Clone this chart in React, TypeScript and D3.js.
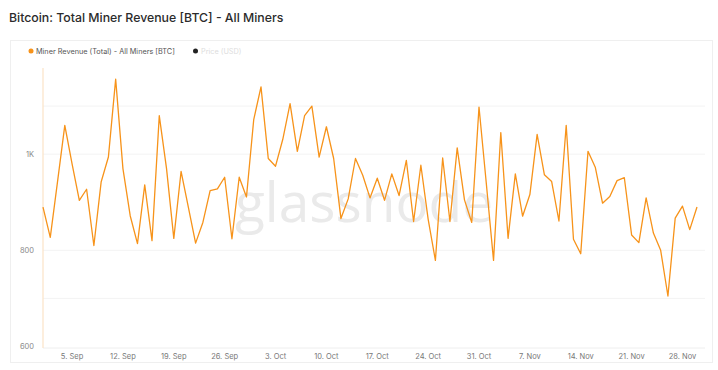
import React from "react";
import * as d3 from "d3";

const startDate = "2022-09-01";
const revenue: number[] = [
  890, 827, 943, 1060, 980, 904, 927, 810, 942, 994,
  1156, 970, 872, 814, 936, 820, 1080, 970, 825, 964,
  890, 815, 858, 924, 928, 952, 824, 952, 911, 1072,
  1140, 991, 975, 1031, 1105, 1006, 1080, 1100, 994, 1057,
  991, 866, 907, 991, 956, 909, 950, 904, 959, 914,
  987, 860, 977, 865, 779, 992, 860, 1013, 905, 858,
  1098, 940, 779, 1045, 825, 959, 871, 916, 1041, 957,
  943, 861, 1060, 823, 793, 1006, 973, 898, 912, 945,
  951, 832, 816, 909, 836, 800, 705, 867, 892, 843,
  890,
];
const yLabelTicks: number[] = [600, 800, 1000];
const yGridTicks: number[] = [700, 800, 1000, 1100];
const yDomain: number[] = [600, 1200];
const title = "Bitcoin: Total Miner Revenue [BTC] - All Miners";
const legendMain = "Miner Revenue (Total) - All Miners [BTC]";
const legendPrice = "Price (USD)";

const W = 718;
const H = 370;
const ORANGE = "#f7931a";

export default function App() {
  const parse = d3.timeParse("%Y-%m-%d");
  const start = parse(startDate) as Date;
  const data = revenue.map((v, i) => ({ date: d3.timeDay.offset(start, i), value: v }));
  const end = data[data.length - 1].date;

  const plotLeft = 43;
  const plotRight = 697;
  const plotTop = 58;
  const plotBottom = 346.5;

  const x = d3.scaleTime().domain([start, end]).range([plotLeft, plotRight]);
  const y = d3.scaleLinear().domain(yDomain).range([plotBottom, plotTop]);

  const line = d3
    .line<{ date: Date; value: number }>()
    .x((d) => x(d.date))
    .y((d) => y(d.value));

  const xTicks = x.ticks(d3.timeMonday.every(1) as d3.TimeInterval);
  const fmtX = d3.timeFormat("%-d. %b");
  const fmtY = (v: number) => (v >= 1000 ? `${v / 1000}K` : `${v}`);

  const font = "Inter, 'Open Sans', sans-serif";

  return (
    <svg
      width={W}
      height={H}
      style={{ position: "absolute", left: 0, top: 0, background: "#fff" }}
      fontFamily={font}
    >
      <rect x={0} y={0} width={W} height={H} fill="#fff" />
      <text x={9} y={22} fontSize={12.3} fontWeight={500} fill="#2b2b2b">
        {title}
      </text>
      <rect x={10.5} y={40.5} width={702} height={322} fill="#fff" stroke="#efefef" />

      {/* legend */}
      <circle cx={31} cy={51} r={2.5} fill={ORANGE} />
      <text x={36} y={53.5} fontSize={7.3} fill="#555">
        {legendMain}
      </text>
      <circle cx={195.5} cy={51} r={2.5} fill="#222" />
      <text x={201} y={53.5} fontSize={7.3} fill="#ddd">
        {legendPrice}
      </text>

      {/* gridlines */}
      {yGridTicks.map((t) => (
        <line key={t} x1={plotLeft} x2={plotRight + 8} y1={y(t)} y2={y(t)} stroke="#f3f3f3" strokeWidth={1} />
      ))}
      <line x1={plotLeft} x2={plotRight + 8} y1={plotBottom + 1.5} y2={plotBottom + 1.5} stroke="#eeeeee" />

      {/* watermark */}
      <text x={364} y={222} textAnchor="middle" fontSize={55} fontWeight={500} fill="#eaeaea" fontFamily="'Open Sans', sans-serif">
        glassnode
      </text>

      {/* y axis */}
      <line x1={plotLeft} x2={plotLeft} y1={plotTop + 10} y2={plotBottom + 1.5} stroke="#fbe3c6" strokeWidth={1.2} />
      {yLabelTicks.map((t) => (
        <text key={t} x={34} y={y(t) + 2.5} textAnchor="end" fontSize={7.5} fill="#8a8a8a">
          {fmtY(t)}
        </text>
      ))}

      {/* x axis labels */}
      {xTicks.map((t) => (
        <text key={t.getTime()} x={x(t)} y={358.5} textAnchor="middle" fontSize={7.5} fill="#777">
          {fmtX(t)}
        </text>
      ))}

      <path d={line(data) || ""} fill="none" stroke={ORANGE} strokeWidth={1.3} strokeLinejoin="round" />
    </svg>
  );
}
